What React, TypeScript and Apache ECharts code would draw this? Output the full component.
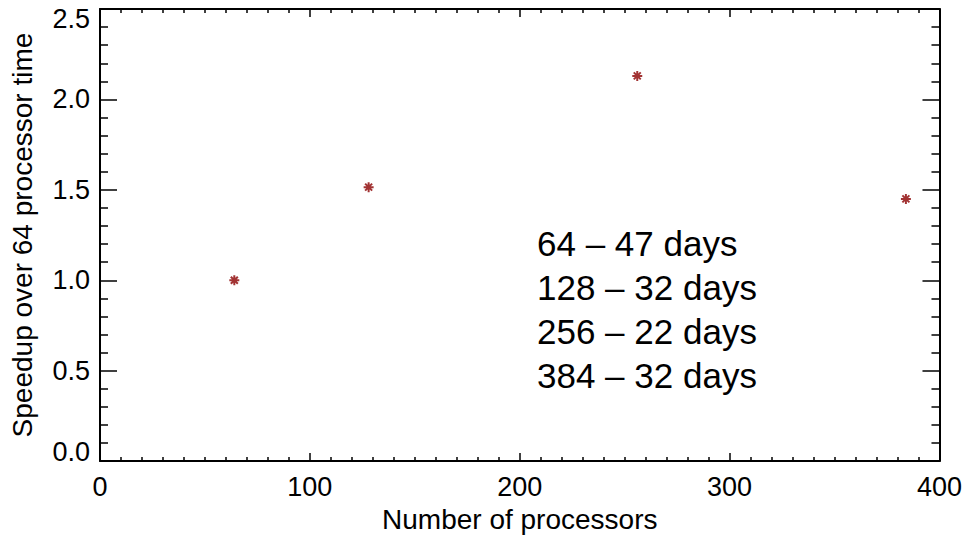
import React, { useEffect, useRef } from "react";
import * as echarts from "echarts";

const processors = [64, 128, 256, 384];
const speedup = [1.0, 1.515, 2.13, 1.45];
const days = [47, 32, 22, 32];
const xTicks = [0, 100, 200, 300, 400];
const yTicks = [0, 0.5, 1.0, 1.5, 2.0, 2.5];

const FONT = "'Liberation Sans', Arial, Helvetica, sans-serif";

export default function App() {
  const ref = useRef<HTMLDivElement>(null);
  useEffect(() => {
    if (!ref.current) return;
    const chart = echarts.init(ref.current, undefined, { renderer: "svg" });
    const yMin = yTicks[0];
    const yMax = yTicks[yTicks.length - 1];
    const xMin = xTicks[0];
    const xMax = xTicks[xTicks.length - 1];
    const commonX = {
      type: "value" as const,
      min: xMin,
      max: xMax,
      interval: xTicks[1] - xTicks[0],
      splitLine: { show: false },
      axisLine: { show: true, onZero: false, lineStyle: { color: "#000", width: 2 } },
      axisTick: { show: true, inside: true, length: 8, lineStyle: { color: "#000", width: 1.5 } },
      minorTick: { show: true, splitNumber: 10, length: 4, lineStyle: { color: "#000", width: 1.5 } },
    };
    const commonY = {
      type: "value" as const,
      min: yMin,
      max: yMax,
      interval: yTicks[1] - yTicks[0],
      splitLine: { show: false },
      axisLine: { show: true, onZero: false, lineStyle: { color: "#000", width: 2 } },
      axisTick: { show: true, inside: true, length: 17, lineStyle: { color: "#000", width: 1.5 } },
      minorTick: { show: true, splitNumber: 5, length: 8, lineStyle: { color: "#000", width: 1.5 } },
    };
    const lineY = [243, 287.5, 331.5, 375.5];
    chart.setOption({
      animation: false,
      backgroundColor: "#fff",
      grid: { left: 100, right: 25, top: 9, bottom: 71, containLabel: false },
      xAxis: [
        {
          ...commonX,
          position: "bottom",
          name: "Number of processors",
          nameLocation: "middle",
          nameGap: 41,
          nameTextStyle: { color: "#000", fontSize: 28, fontFamily: FONT },
          axisLabel: {
            show: true,
            color: "#000",
            fontSize: 27,
            fontFamily: FONT,
            margin: 12,
            formatter: (v: number) => String(Math.round(v)),
          },
        },
        { ...commonX, position: "top", axisLabel: { show: false } },
      ],
      yAxis: [
        {
          ...commonY,
          position: "left",
          name: "Speedup over 64 processor time",
          nameLocation: "middle",
          nameGap: 64,
          nameTextStyle: { color: "#000", fontSize: 28, fontFamily: FONT },
          axisLabel: {
            show: true,
            color: "#000",
            fontSize: 27,
            fontFamily: FONT,
            margin: 10,
            formatter: (v: number) => {
              const s = v.toFixed(1);
              if (Math.abs(v - yMax) < 1e-9) return "{top|" + s + "}";
              if (Math.abs(v - yMin) < 1e-9) return "{bot|" + s + "}";
              return s;
            },
            rich: {
              top: { fontSize: 27, fontFamily: FONT, color: "#000", padding: [20, 0, 0, 0] },
              bot: { fontSize: 27, fontFamily: FONT, color: "#000", padding: [0, 0, 19, 0] },
            },
          },
        },
        { ...commonY, position: "right", axisLabel: { show: false } },
      ],
      series: [
        {
          type: "scatter",
          xAxisIndex: 0,
          yAxisIndex: 0,
          data: processors.map((p, i) => [p, speedup[i]]),
          symbol: "path://M5 0L5 10M0 5L10 5M1.5 1.5L8.5 8.5M1.5 8.5L8.5 1.5",
          symbolSize: 10,
          itemStyle: { color: "#8b0000", borderColor: "#8b0000", borderWidth: 2 },
        },
      ],
      graphic: processors.map((p, i) => ({
        type: "text",
        x: 537,
        y: lineY[i],
        style: {
          text: `${p} \u2013 ${days[i]} days`,
          fill: "#000",
          fontSize: 35,
          fontFamily: FONT,
          textVerticalAlign: "middle",
          textAlign: "left",
        },
      })),
    });
    return () => chart.dispose();
  }, []);
  return (
    <div
      ref={ref}
      style={{ position: "fixed", left: 0, top: 0, width: 965, height: 538, background: "#fff" }}
    />
  );
}
